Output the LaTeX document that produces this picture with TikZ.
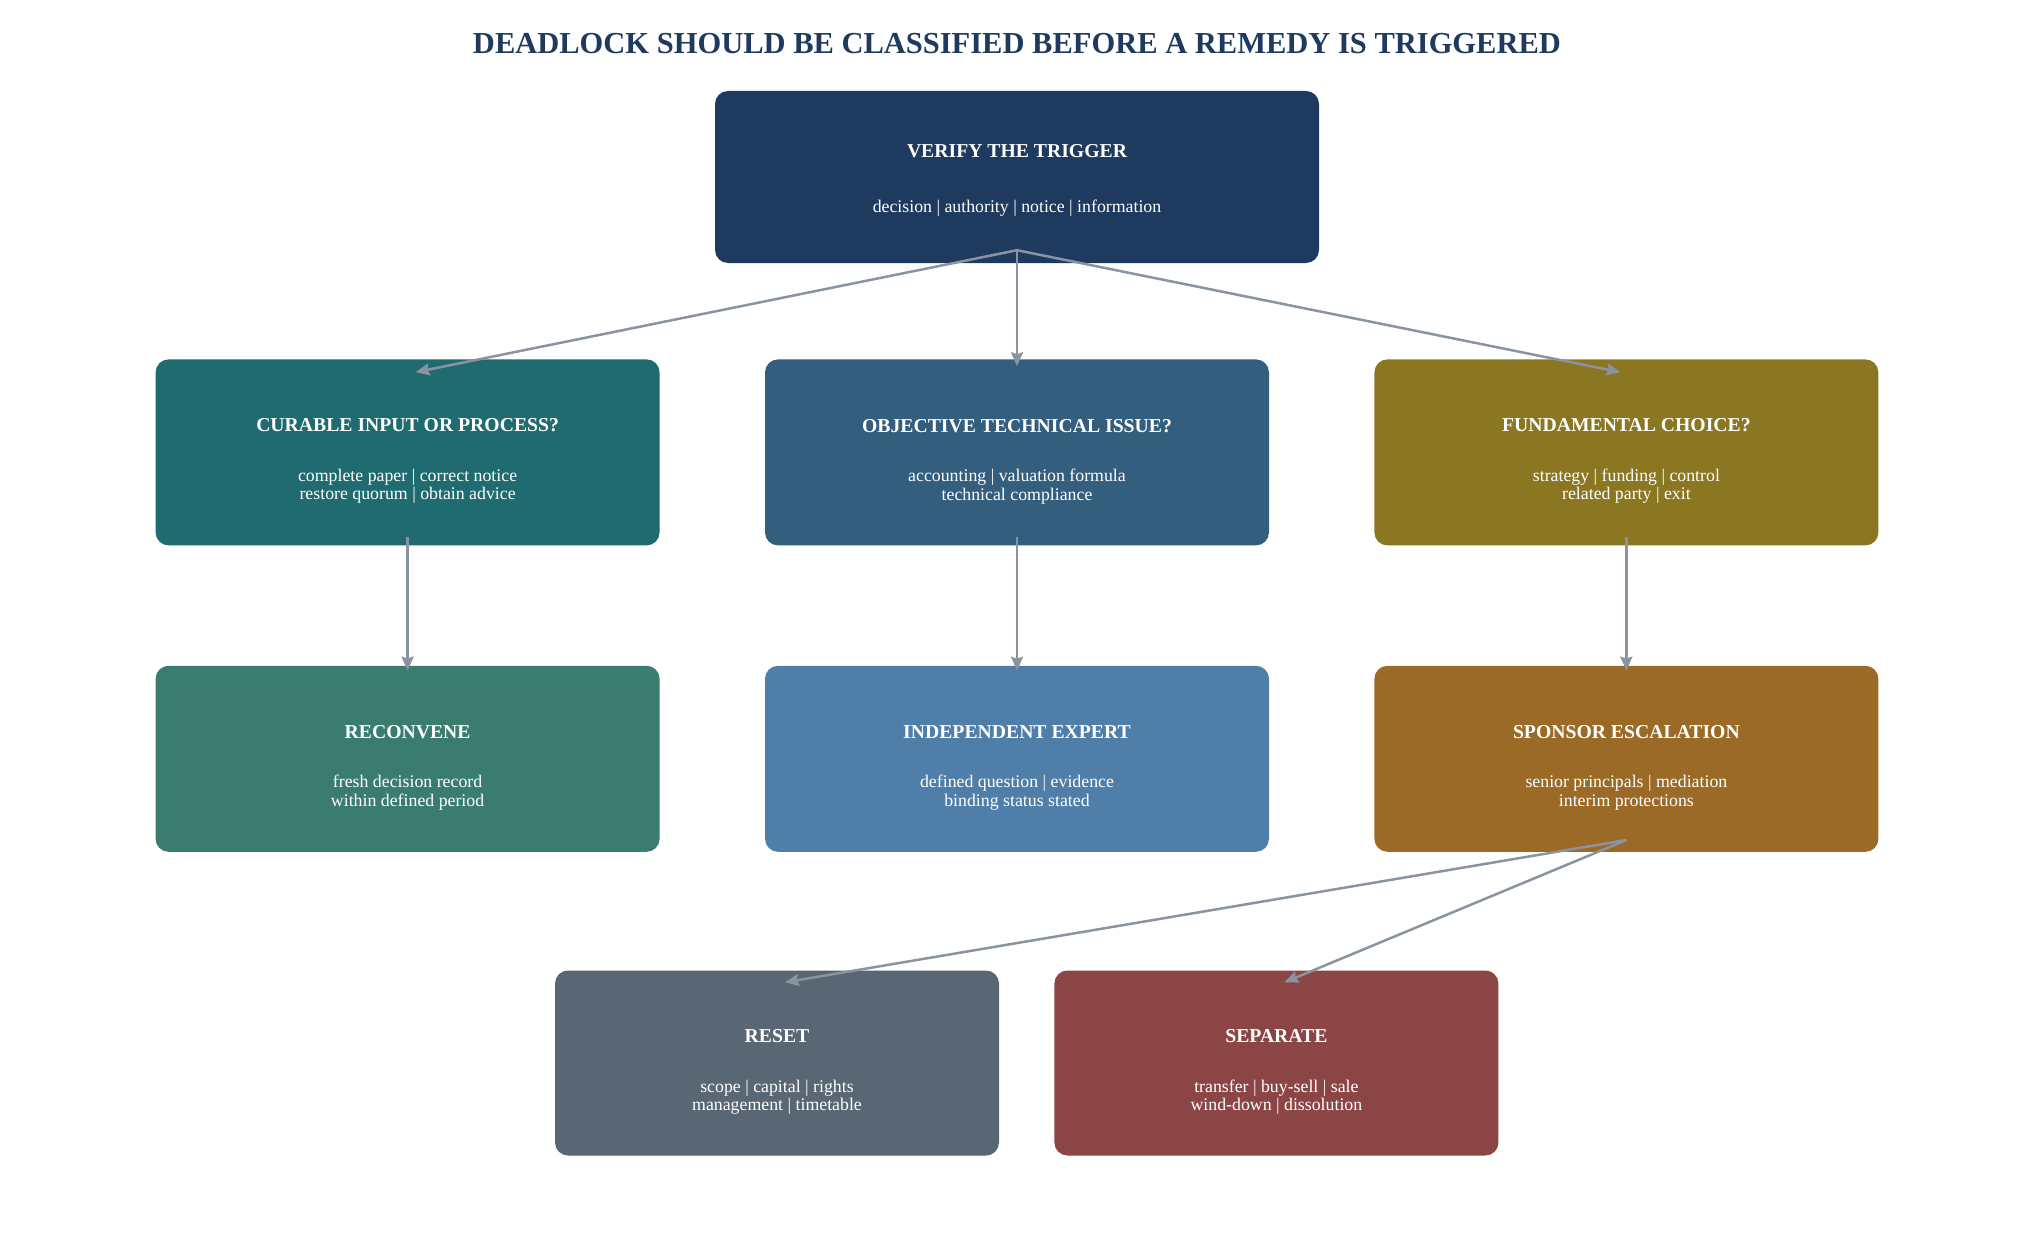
\documentclass[tikz,border=0pt]{standalone}
\usepackage{fontspec}
\setmainfont{Liberation Serif}
\usetikzlibrary{arrows.meta,positioning}
\tikzset{>/.tip={Stealth[length=14pt,width=12pt,inset=2pt]}}
\definecolor{navy}{HTML}{1F3A5F}
\definecolor{curablecol}{HTML}{1F6B6F}
\definecolor{objectcol}{HTML}{345E7D}
\definecolor{fundcol}{HTML}{8B7622}
\definecolor{reconcol}{HTML}{3A7D6F}
\definecolor{expertcol}{HTML}{4F7EA8}
\definecolor{sponsorcol}{HTML}{9A6A26}
\definecolor{resetcol}{HTML}{596673}
\definecolor{sepcol}{HTML}{8B4545}
\definecolor{arrowgrey}{HTML}{8A94A0}
\newcommand\subfont{\fontsize{17.8}{18.5}\selectfont}
\newcommand\boxhead[3][31pt]{\rule{0pt}{#3}{\bfseries\fontsize{19.7}{22}\selectfont #2}\\[#1]}
\tikzset{
  box/.style={rectangle,rounded corners=13pt,text=white,align=center,
    minimum width=504pt,minimum height=186pt,inner sep=0pt,font=\subfont},
  flow/.style={->,draw=arrowgrey,line width=2.5pt},
}

\begin{document}
\begin{tikzpicture}[x=1pt,y=-1pt]
  \useasboundingbox (0,0) rectangle (2034,1260);
  \node(title)[font=\bfseries\fontsize{30.5}{34}\selectfont,text=navy] at (1017,44)
    {DEADLOCK SHOULD BE CLASSIFIED BEFORE A REMEDY IS TRIGGERED};
  \node(verify)[box,fill=navy,minimum width=604pt,minimum height=172pt] at (1017,177)
    {\boxhead[36pt]{VERIFY THE TRIGGER}{20pt}decision | authority | notice | information};
  \node(objective)[box,fill=objectcol,below=96pt of verify]
    {\boxhead{OBJECTIVE TECHNICAL ISSUE?}{31pt}accounting | valuation formula\\technical compliance};
  \node(curable)[box,fill=curablecol,left=105pt of objective]
    {\boxhead{CURABLE INPUT OR PROCESS?}{31pt}complete paper | correct notice\\restore quorum | obtain advice};
  \node(fundamental)[box,fill=fundcol,right=105pt of objective]
    {\boxhead{FUNDAMENTAL CHOICE?}{31pt}strategy | funding | control\\related party | exit};
  \node(reconvene)[box,fill=reconcol,below=120pt of curable]
    {\boxhead{RECONVENE}{31pt}fresh decision record\\within defined period};
  \node(expert)[box,fill=expertcol,below=120pt of objective]
    {\boxhead{INDEPENDENT EXPERT}{31pt}defined question | evidence\\binding status stated};
  \node(sponsor)[box,fill=sponsorcol,below=120pt of fundamental]
    {\boxhead{SPONSOR ESCALATION}{31pt}senior principals | mediation\\interim protections};
  \node(reset)[box,fill=resetcol,minimum width=444pt,minimum height=185pt] at (777,1063)
    {\boxhead{RESET}{31pt}scope | capital | rights\\management | timetable};
  \node(separate)[box,fill=sepcol,minimum width=444pt,minimum height=185pt,right=55pt of reset]
    {\boxhead{SEPARATE}{31pt}transfer | buy-sell | sale\\wind-down | dissolution};
  % connectors
  \draw[flow] ([yshift=13pt]verify.south) -- ([yshift=-13pt,xshift=8pt]curable.north);
  \draw[flow] ([yshift=13pt]verify.south) -- ([yshift=-7pt]objective.north);
  \draw[flow] ([yshift=13pt]verify.south) -- ([yshift=-13pt,xshift=-6pt]fundamental.north);
  \draw[flow] ([yshift=9pt]curable.south) -- ([yshift=-5pt]reconvene.north);
  \draw[flow] ([yshift=9pt]objective.south) -- ([yshift=-5pt]expert.north);
  \draw[flow] ([yshift=9pt]fundamental.south) -- ([yshift=-5pt]sponsor.north);
  \draw[flow] ([yshift=12pt]sponsor.south) -- ([yshift=-12pt,xshift=8pt]reset.north);
  \draw[flow] ([yshift=12pt]sponsor.south) -- ([yshift=-12pt,xshift=8pt]separate.north);
\end{tikzpicture}
\end{document}
